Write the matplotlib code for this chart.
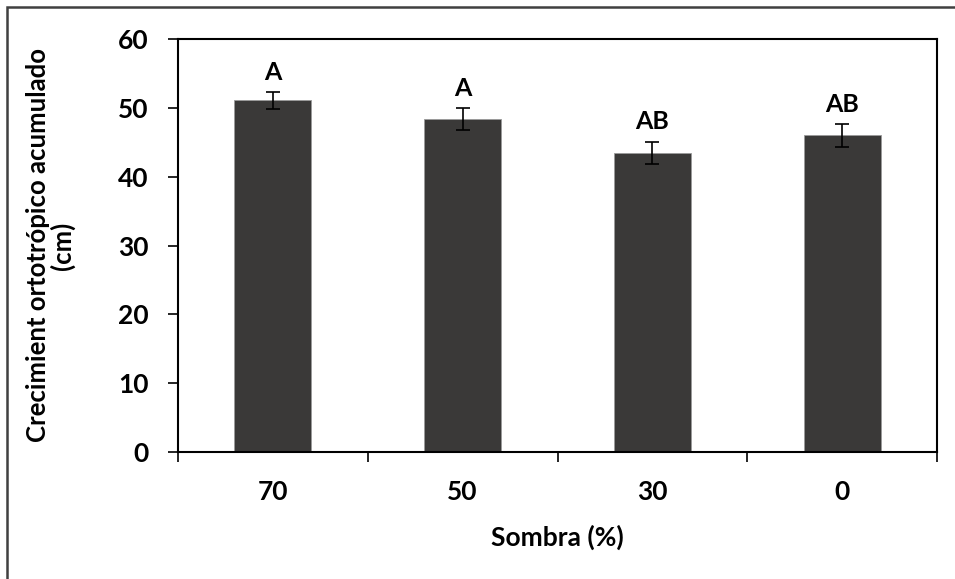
import matplotlib
import matplotlib.pyplot as plt
from matplotlib.patches import Rectangle

matplotlib.use('agg')

sombra = ['70', '50', '30', '0']
crecimiento = [51.1, 48.4, 43.5, 46.0]
error = [1.2, 1.6, 1.6, 1.65]
letras = ['A', 'A', 'AB', 'AB']

plt.rcParams['font.family'] = ['Lato', 'DejaVu Sans']
plt.rcParams['font.weight'] = 'bold'

fig = plt.figure(figsize=(9.55, 5.79), dpi=100)
ax = fig.add_axes([178 / 955, 1 - 452 / 579, (937 - 178) / 955, (452 - 39) / 579])

x = range(len(sombra))
ax.bar(x, crecimiento, width=0.405, color='#3a3938', edgecolor='#9a9a9a', linewidth=0.6, zorder=2)
ax.errorbar(x, crecimiento, yerr=error, fmt='none', ecolor='black', elinewidth=1.2,
            capsize=5, capthick=1.2, zorder=3)

for i, (v, e, t) in enumerate(zip(crecimiento, error, letras)):
    ax.annotate(t, (i, v + e), xytext=(0, 6), textcoords='offset points',
                ha='center', va='bottom', fontsize=18, fontweight='bold')

ax.set_xlim(-0.5, 3.5)
ax.set_ylim(0, 60)
ax.set_yticks(range(0, 61, 10))
ax.set_xticks(list(x))
ax.set_xticklabels(sombra)
ax.set_xticks([-0.5, 0.5, 1.5, 2.5, 3.5], minor=True)
ax.tick_params(axis='x', which='major', length=0, pad=20, labelsize=19)
ax.tick_params(axis='x', which='minor', length=7, width=1.2, direction='out')
ax.tick_params(axis='y', length=7, width=1.2, direction='out', pad=14, labelsize=19)

for s in ax.spines.values():
    s.set_linewidth(1.5)

ax.set_xlabel('Sombra (%)', fontsize=19, fontweight='bold', labelpad=15)
ax.set_ylabel('Crecimient ortotrópico acumulado\n(cm)', fontsize=18.5, fontweight='bold',
              labelpad=31, linespacing=1.0)

fig.patches.append(Rectangle((7 / 955, -0.1), 1.1, 1 - 7 / 579 + 0.1, transform=fig.transFigure,
                             fill=False, edgecolor='#404040', linewidth=1.8))

fig.savefig('out.png', dpi=100)
